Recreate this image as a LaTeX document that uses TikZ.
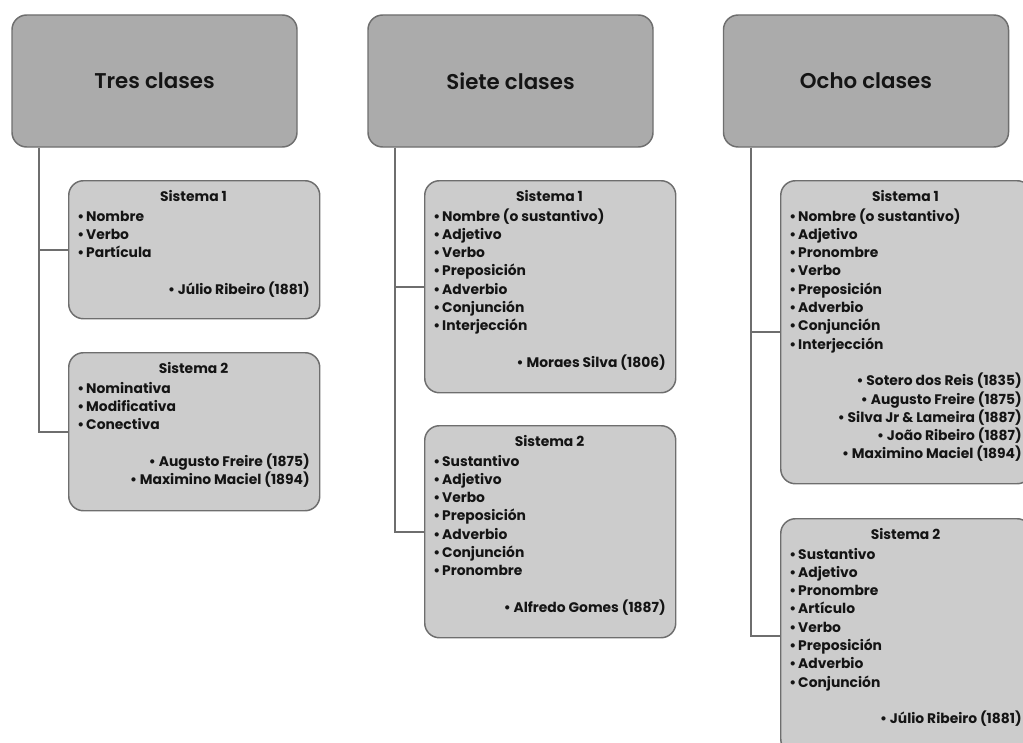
\documentclass[tikz,border=0pt]{standalone}
\usepackage{fontspec}
\setmainfont{Poppins}
\newfontfamily\semib{Poppins SemiBold}
\begin{document}
\definecolor{headfill}{HTML}{ABABAB}
\definecolor{boxfill}{HTML}{CCCCCC}
\definecolor{edge}{HTML}{6E6E6E}
\definecolor{ink}{HTML}{141414}
\tikzset{
  headbox/.style={draw=edge, fill=headfill, line width=1.1pt, rounded corners=11pt,
    minimum width=213.75pt, minimum height=99pt, inner sep=0pt,
    font=\semib\fontsize{16}{19}\selectfont, text=ink},
  childbox/.style={draw=edge, fill=boxfill, line width=1.1pt, rounded corners=11pt,
    minimum width=188.25pt, inner sep=0pt},
  subtxt/.style={inner sep=0pt, font=\bfseries\fontsize{10.4}{12}\selectfont, text=ink},
  conn/.style={draw=edge, line width=1.2pt}
}
% one "Sistema" block: name, left x, top y, height, heading, items, authors
\newcommand\sysblock[7]{%
  \node[childbox, minimum height=#4*0.75pt, anchor=north west] (#1) at (#2,#3) {};
  \node[subtxt, anchor=base] (#1-t) at ({#2+125.5},{#3+21}) {#5};
  \foreach \t [count=\i] in {#6} {%
    \node[subtxt, anchor=base west] (#1-i\i) at ({#2+9},{#3+41+18.3*(\i-1)}) {•\hspace{1.5pt}\t};
    \xdef\nitems{\i}}
  \foreach \t [count=\k] in {#7} {%
    \node[subtxt, anchor=base east] (#1-a\k) at ({#2+242},{#3+41+18.3*(\nitems+\k)}) {• \t};}
}
\begin{tikzpicture}[x=0.75pt, y=-0.75pt]
  \useasboundingbox (0,0) rectangle (1023,742);
  \clip (0,0) rectangle (1023,742);

  % column heads
  \node[headbox] (A) at (154.5,81) {Tres clases};
  \node[headbox] (B) at (510.5,81) {Siete clases};
  \node[headbox] (C) at (866,81) {Ocho clases};

  % junction points under each head
  \coordinate (Aj) at ([xshift=21pt]A.south west);
  \coordinate (Bj) at ([xshift=21pt]B.south west);
  \coordinate (Cj) at ([xshift=21pt]C.south west);

  % three classes
  \sysblock{A1}{68}{180}{138}{Sistema 1}{Nombre,Verbo,Partícula}{Júlio Ribeiro (1881)}
  \sysblock{A2}{68}{352}{158}{Sistema 2}{Nominativa,Modificativa,Conectiva}
    {Augusto Freire (1875),Maximino Maciel (1894)}

  % seven classes
  \sysblock{B1}{424}{180}{212}{Sistema 1}
    {Nombre (o sustantivo),Adjetivo,Verbo,Preposición,Adverbio,Conjunción,Interjección}
    {Moraes Silva (1806)}
  \sysblock{B2}{424}{425}{212}{Sistema 2}
    {Sustantivo,Adjetivo,Verbo,Preposición,Adverbio,Conjunción,Pronombre}
    {Alfredo Gomes (1887)}

  % eight classes
  \sysblock{C1}{780}{180}{303}{Sistema 1}
    {Nombre (o sustantivo),Adjetivo,Pronombre,Verbo,Preposición,Adverbio,Conjunción,Interjección}
    {Sotero dos Reis (1835),Augusto Freire (1875),Silva Jr \& Lameira (1887),João Ribeiro (1887),Maximino Maciel (1894)}
  \sysblock{C2}{780}{518}{235}{Sistema 2}
    {Sustantivo,Adjetivo,Pronombre,Artículo,Verbo,Preposición,Adverbio,Conjunción}
    {Júlio Ribeiro (1881)}

  % connectors
  \draw[conn] (Aj) |- (A1.west);
  \draw[conn] (Aj) |- (A2.west);
  \draw[conn] (Bj) |- (B1.west);
  \draw[conn] (Bj) |- (B2.west);
  \draw[conn] (Cj) |- (C1.west);
  \draw[conn] (Cj) |- (C2.west);
\end{tikzpicture}
\end{document}
